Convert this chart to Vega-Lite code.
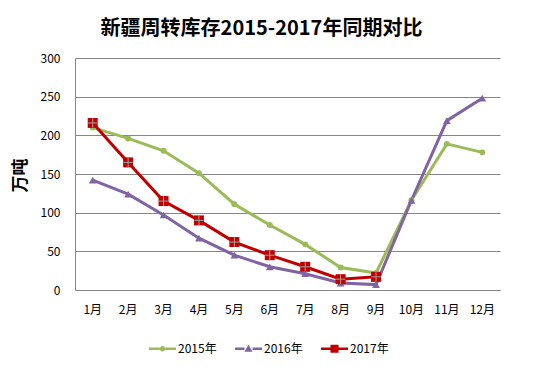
{
  "$schema": "https://vega.github.io/schema/vega-lite/v6.json",
  "autosize": "none",
  "width": 425,
  "height": 232,
  "padding": {"left": 75, "top": 58, "right": 38, "bottom": 86},
  "background": "white",
  "config": {
    "font": "Noto Sans CJK SC",
    "view": {"stroke": null},
    "axis": {"labelFont": "Noto Sans CJK SC", "labelColor": "#000000", "labelFontSize": 12, "domainColor": "#868686", "gridColor": "#868686", "ticks": false}
  },
  "title": {"text": "新疆周转库存2015-2017年同期对比", "fontSize": 20, "fontWeight": "bold", "color": "#000000", "anchor": "middle", "frame": "group", "dx": -26, "offset": 13},
  "data": {"values": [
    {"m": "1月", "y": "2015年", "v": 210},
    {"m": "2月", "y": "2015年", "v": 196},
    {"m": "3月", "y": "2015年", "v": 180},
    {"m": "4月", "y": "2015年", "v": 151},
    {"m": "5月", "y": "2015年", "v": 111},
    {"m": "6月", "y": "2015年", "v": 84},
    {"m": "7月", "y": "2015年", "v": 59},
    {"m": "8月", "y": "2015年", "v": 29},
    {"m": "9月", "y": "2015年", "v": 22},
    {"m": "10月", "y": "2015年", "v": 116},
    {"m": "11月", "y": "2015年", "v": 189},
    {"m": "12月", "y": "2015年", "v": 178},
    {"m": "1月", "y": "2016年", "v": 142},
    {"m": "2月", "y": "2016年", "v": 124},
    {"m": "3月", "y": "2016年", "v": 97},
    {"m": "4月", "y": "2016年", "v": 67},
    {"m": "5月", "y": "2016年", "v": 45},
    {"m": "6月", "y": "2016年", "v": 30},
    {"m": "7月", "y": "2016年", "v": 21},
    {"m": "8月", "y": "2016年", "v": 9},
    {"m": "9月", "y": "2016年", "v": 7},
    {"m": "10月", "y": "2016年", "v": 116},
    {"m": "11月", "y": "2016年", "v": 219},
    {"m": "12月", "y": "2016年", "v": 248},
    {"m": "1月", "y": "2017年", "v": 216},
    {"m": "2月", "y": "2017年", "v": 165},
    {"m": "3月", "y": "2017年", "v": 115},
    {"m": "4月", "y": "2017年", "v": 90},
    {"m": "5月", "y": "2017年", "v": 62},
    {"m": "6月", "y": "2017年", "v": 45},
    {"m": "7月", "y": "2017年", "v": 30},
    {"m": "8月", "y": "2017年", "v": 14},
    {"m": "9月", "y": "2017年", "v": 17}
  ]},
  "encoding": {
    "x": {"field": "m", "type": "nominal", "sort": ["1月","2月","3月","4月","5月","6月","7月","8月","9月","10月","11月","12月"],
          "scale": {"type": "band", "paddingInner": 0, "paddingOuter": 0},
          "axis": {"title": null, "labelAngle": 0, "labelPadding": 14, "grid": false}},
    "y": {"field": "v", "type": "quantitative", "scale": {"domain": [0, 300], "nice": false},
          "axis": {"values": [0, 50, 100, 150, 200, 250, 300], "title": "万吨", "titleFontSize": 17, "titleFontWeight": "bold", "titleColor": "#000000", "titleX": -55, "titleY": 117, "titleAngle": -90, "titleBaseline": "middle", "labelPadding": 15, "grid": true, "domain": true}}
  },
  "layer": [
    {
      "mark": {"type": "line", "strokeWidth": 3},
      "encoding": {
        "color": {"field": "y", "type": "nominal",
          "scale": {"domain": ["2015年","2016年","2017年"], "range": ["#9BBB59","#8064A2","#C00000"]},
          "legend": {"title": null, "orient": "none", "direction": "horizontal", "legendX": 74, "legendY": 277,
            "labelFontSize": 12, "labelColor": "#000000", "labelOffset": 2, "columnPadding": 18, "symbolSize": 729,
            "encode": {"symbols": {"update": {
              "fill": {"scale": "color", "field": "value"},
              "strokeWidth": {"value": 0},
              "shape": {"signal": "datum.value === '2015年' ? 'M-1,-0.1L-0.2,-0.1L-0.2,0.1L-1,0.1Z M0.2,-0.1L1,-0.1L1,0.1L0.2,0.1Z M-0.2,0 a0.2,0.2 0 1,0 0.4,0 a0.2,0.2 0 1,0 -0.4,0Z' : datum.value === '2016年' ? 'M-1,-0.1L-0.3,-0.1L-0.3,0.1L-1,0.1Z M0.3,-0.1L1,-0.1L1,0.1L0.3,0.1Z M-0.3,0.22L0,-0.3L0.3,0.22Z' : 'M-1,-0.1L-0.3,-0.1L-0.3,0.1L-1,0.1Z M0.3,-0.1L1,-0.1L1,0.1L0.3,0.1Z M-0.3,-0.3L0.3,-0.3L0.3,0.3L-0.3,0.3Z'"}
            }}}
          }}
      }
    },
    {
      "transform": [{"filter": "datum.y === '2015年'"}],
      "mark": {"type": "point", "filled": true, "opacity": 1, "shape": "circle", "size": 35, "color": "#9BBB59"},
      "encoding": {}
    },
    {
      "transform": [{"filter": "datum.y === '2016年'"}],
      "mark": {"type": "point", "filled": true, "opacity": 1, "shape": "triangle-up", "size": 60, "color": "#8064A2"},
      "encoding": {}
    },
    {
      "transform": [{"filter": "datum.y === '2017年'"}],
      "mark": {"type": "point", "filled": true, "opacity": 1, "shape": "square", "size": 100, "color": "#C00000"},
      "encoding": {}
    },
    {
      "transform": [{"filter": "datum.y === '2017年'"}],
      "mark": {"type": "point", "shape": "M-1,0L1,0M0,-1L0,1", "filled": false, "stroke": "#A0A0A0", "strokeWidth": 1, "size": 90, "opacity": 1},
      "encoding": {}
    }
  ]
}
